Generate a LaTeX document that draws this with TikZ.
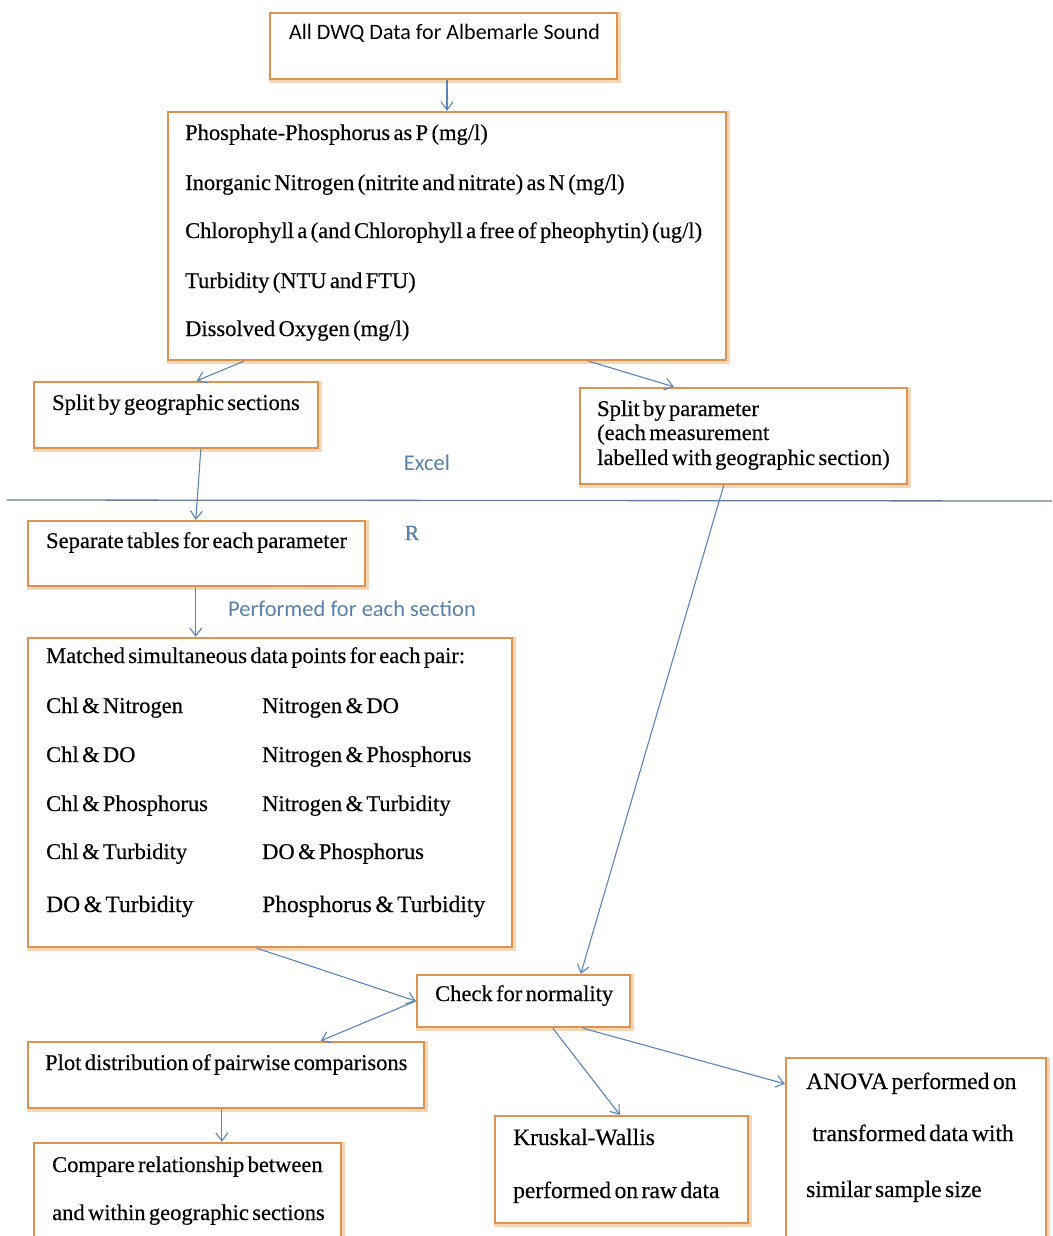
\documentclass[tikz,border=0pt]{standalone}
\usepackage{fontspec}
\setmainfont[WordSpace=0.6,FakeBold=0.3]{Liberation Serif}
\newfontfamily\calib{Carlito}
\usetikzlibrary{arrows.meta,calc}
\definecolor{boxor}{RGB}{222,146,80}
\definecolor{boxsh}{RGB}{246,214,180}
\definecolor{arrblue}{RGB}{92,132,184}
\definecolor{lblblue}{RGB}{88,128,170}
\definecolor{sepline}{RGB}{100,125,150}
\begin{document}
\begin{tikzpicture}[x=1pt,y=-1pt,
  obox/.style={draw=boxor,line width=2.4pt,fill=white,inner sep=0pt,
    preaction={draw=boxsh,line width=5pt,transform canvas={shift={(1.5pt,-1.5pt)}}}},
  txt/.style={anchor=base west,inner sep=0pt,font=\fontsize{22.5}{26}\selectfont},
  txtb/.style={anchor=base west,inner sep=0pt,font=\fontsize{23.5}{27}\selectfont},
  lbl/.style={inner sep=0pt,text=lblblue,font=\calib\fontsize{22.5}{26}\selectfont},
  conn/.style={draw=arrblue,line width=1.1pt,-{Straight Barb[length=8pt,width=12pt,line width=1.1pt]}}]
\useasboundingbox (0,0) rectangle (1052,1236);
\fill[white] (0,0) rectangle (1052,1236);
% boxes
\node[obox,minimum width=347pt,minimum height=66pt] (b1) at (443.5,46) {};
\node[obox,minimum width=558pt,minimum height=248pt] (b2) at (447,236) {};
\node[obox,minimum width=284pt,minimum height=66pt] (b3) at (176,415) {};
\node[obox,minimum width=327pt,minimum height=96pt] (b4) at (743.5,436) {};
\node[obox,minimum width=337pt,minimum height=65pt] (b5) at (196.5,553.5) {};
\node[obox,minimum width=484pt,minimum height=309pt] (b6) at (270,792.5) {};
\node[obox,minimum width=213pt,minimum height=52pt] (b7) at (523.5,1001) {};
\node[obox,minimum width=396pt,minimum height=66pt] (b8) at (226,1075) {};
\node[obox,minimum width=307pt,minimum height=104pt] (b9) at (187.5,1195) {};
\node[obox,minimum width=253pt,minimum height=107pt] (b10) at (621.5,1169.5) {};
\node[obox,minimum width=260pt,minimum height=194pt] (b11) at (916,1155) {};
% texts
\node[txt,font=\calib\fontsize{22}{26}\selectfont] (t1) at (289,40) {All DWQ Data for Albemarle Sound};
\node[txt] (t2a) at (185,140) {Phosphate-Phosphorus as P (mg/l)};
\node[txt] (t2b) at (185,190) {Inorganic Nitrogen (nitrite and nitrate) as N (mg/l)};
\node[txt] (t2c) at (185,238) {Chlorophyll a (and Chlorophyll a free of pheophytin) (ug/l)};
\node[txt] (t2d) at (185,288) {Turbidity (NTU and FTU)};
\node[txt] (t2e) at (185,336) {Dissolved Oxygen (mg/l)};
\node[txt] (t3) at (52,410) {Split by geographic sections};
\node[txt] (t4a) at (597,416) {Split by parameter};
\node[txt] (t4b) at (597,440) {(each measurement};
\node[txt] (t4c) at (597,465) {labelled with geographic section)};
\node[txt] (t5) at (46,548) {Separate tables for each parameter};
\node[txt] (t6) at (46,663) {Matched simultaneous data points for each pair:};
\node[txt] (t6a) at (46,713) {Chl \& Nitrogen};
\node[txt] (t6b) at (46,762) {Chl \& DO};
\node[txt] (t6c) at (46,811) {Chl \& Phosphorus};
\node[txt] (t6d) at (46,859) {Chl \& Turbidity};
\node[txtb] (t6e) at (46,912) {DO \& Turbidity};
\node[txt] (t6f) at (262,713) {Nitrogen \& DO};
\node[txt] (t6g) at (262,762) {Nitrogen \& Phosphorus};
\node[txt] (t6h) at (262,811) {Nitrogen \& Turbidity};
\node[txt] (t6i) at (262,859) {DO \& Phosphorus};
\node[txtb] (t6j) at (262,912) {Phosphorus \& Turbidity};
\node[txt] (t7) at (435,1001) {Check for normality};
\node[txt] (t8) at (45,1070) {Plot distribution of pairwise comparisons};
\node[txt] (t9a) at (52,1172) {Compare relationship between};
\node[txt] (t9b) at (52,1220) {and within geographic sections};
\node[txtb] (t10a) at (513,1145) {Kruskal-Wallis};
\node[txtb] (t10b) at (513,1198) {performed on raw data};
\node[txtb] (t11a) at (806,1089) {ANOVA performed on};
\node[txtb] (t11b) at (812,1141) {transformed data with};
\node[txtb] (t11c) at (806,1197) {similar sample size};
% labels
\node[lbl] (lx) at (427,463) {Excel};
\node[lbl,font=\fontsize{22}{26}\selectfont] (lr) at (412,533) {R};
\node[lbl] (lp) at (352,609) {Performed for each section};
% separator
\coordinate (sl) at (7,500);
\coordinate (sr) at (1052,501);
\draw[sepline,line width=1.3pt] (sl) -- (sr);
% connectors
\draw[conn] (b1.south -| b2.north) -- (b2.north);
\draw[conn] ($(b2.south west)+(77,0)$) -- ($(b3.north west)+(164,0)$);
\draw[conn] ($(b2.south west)+(422,0)$) -- ($(b4.north west)+(95,0)$);
\draw[conn] ($(b3.south west)+(168,0)$) -- ($(b5.north west)+(169,0)$);
\draw[conn] ($(b4.south west)+(145,0)$) -- ($(b7.north west)+(165,0)$);
\draw[conn] ($(b5.south west)+(169,0)$) -- ($(b6.north west)+(169,0)$);
\draw[conn] ($(b6.south west)+(230,0)$) -- (b7.west);
\draw[conn] (b7.west) -- ($(b8.north west)+(294,0)$);
\draw[conn] ($(b8.south west)+(195,0)$) -- ($(b9.north west)+(189,0)$);
\draw[conn] ($(b7.south west)+(137,0)$) -- ($(b10.north west)+(126,0)$);
\draw[conn] ($(b7.south west)+(167,0)$) -- ($(b11.north west)+(0,27)$);
\end{tikzpicture}
\end{document}
